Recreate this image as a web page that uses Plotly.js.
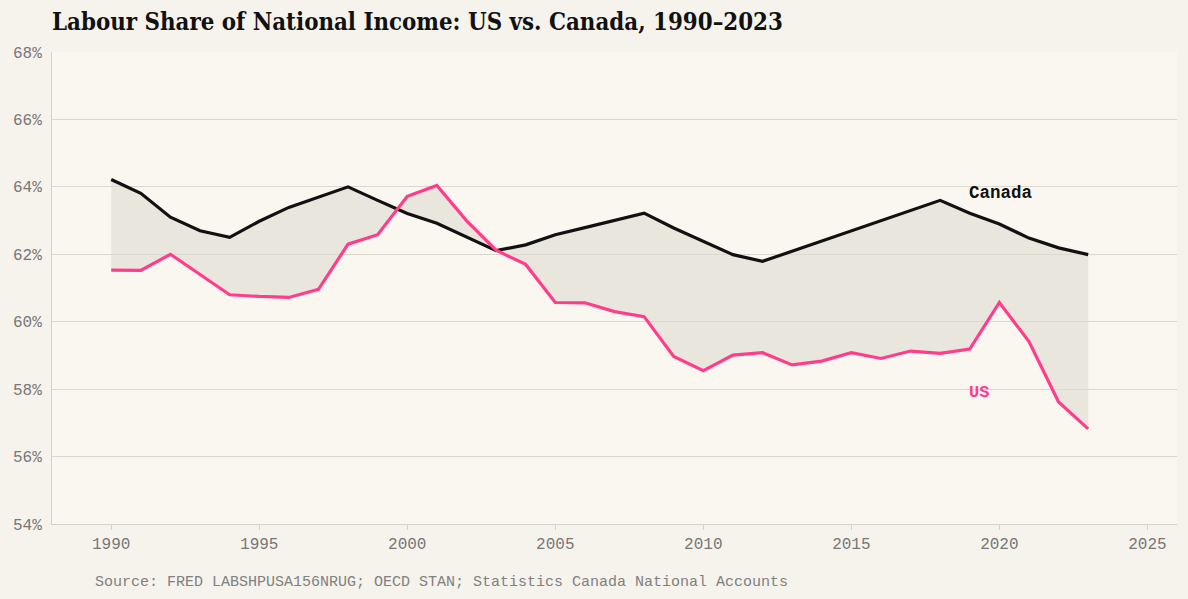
<!DOCTYPE html>
<html>
<head>
<meta charset="utf-8">
<script src="https://cdn.plot.ly/plotly-3.0.1.min.js"></script>
<style>
    html, body { margin: 0; padding: 0; background: #f6f3ed; }
    #chart { width: 1188px; height: 599px; }
</style>
</head>
<body>
<div id="chart"></div>
<script>
// data (labour share, % of national income)
const years = [1990, 1991, 1992, 1993, 1994, 1995, 1996, 1997, 1998, 1999,
    2000, 2001, 2002, 2003, 2004, 2005, 2006, 2007, 2008, 2009,
    2010, 2011, 2012, 2013, 2014, 2015, 2016, 2017, 2018, 2019,
    2020, 2021, 2022, 2023]

const canada = [64.22, 63.81, 63.1, 62.7, 62.5, 62.98, 63.39, 63.69, 64.0, 63.6,
    63.21, 62.92, 62.52, 62.11, 62.28, 62.58, 62.79, 63.0, 63.22, 62.78,
    62.38, 61.99, 61.79, 62.09, 62.4, 62.7, 63.0, 63.3, 63.6, 63.22,
    62.9, 62.48, 62.19, 61.99]

const us = [61.53, 61.52, 62.0, 61.4, 60.8, 60.75, 60.72, 60.96, 62.3, 62.58,
    63.72, 64.04, 63.0, 62.12, 61.7, 60.57, 60.56, 60.3, 60.15, 58.97,
    58.55, 59.01, 59.08, 58.72, 58.83, 59.08, 58.91, 59.13, 59.06, 59.19,
    60.57, 59.41, 57.62, 56.82]

const yTicks = [54, 56, 58, 60, 62, 64, 66, 68]
const xTicks = [1990, 1995, 2000, 2005, 2010, 2015, 2020, 2025]

const titleText = "Labour Share of National Income: US vs. Canada, 1990–2023"
const sourceText = "Source: FRED LABSHPUSA156NRUG; OECD STAN; Statistics Canada National Accounts"

const pink = "#ff3d8b"
const ink = "#111111"
const mono = "'Liberation Mono', 'Courier New', monospace"

let plotData = [
    {
        // base for the gap fill
        type: 'scatter', x: years, y: us, mode: 'lines',
        line: { width: 0 }, hoverinfo: 'skip', showlegend: false
    },
    {
        type: 'scatter', x: years, y: canada, mode: 'lines',
        fill: 'tonexty', fillcolor: 'rgba(222, 218, 210, 0.6)',
        line: { width: 0 }, hoverinfo: 'skip', showlegend: false
    },
    {
        type: 'scatter', x: years, y: canada, mode: 'lines', name: 'Canada',
        line: { color: ink, width: 3.2 }, showlegend: false
    },
    {
        type: 'scatter', x: years, y: us, mode: 'lines', name: 'US',
        line: { color: pink, width: 3.2 }, showlegend: false
    }
]

let plotLayout = {
    width: 1188,
    height: 599,
    paper_bgcolor: '#f6f3ed',
    plot_bgcolor: '#faf7f1',
    margin: { l: 52, r: 11, t: 52, b: 75 },
    font: { family: mono, size: 16, color: '#777777' },
    title: {
        text: '<b>' + titleText + '</b>',
        font: { family: "'DejaVu Serif Condensed', 'DejaVu Serif', serif", size: 23.8, color: '#111111' },
        x: 52 / 1188, xanchor: 'left',
        y: 1 - 22 / 599, yanchor: 'middle'
    },
    xaxis: {
        range: [1988, 2026],
        tickvals: xTicks,
        ticktext: xTicks.map(String),
        showgrid: false,
        zeroline: false,
        showline: true,
        linecolor: '#d6d1c7',
        ticks: 'outside',
        ticklen: 5,
        tickcolor: '#d6d1c7',
        tickfont: { family: mono, size: 16, color: '#777777' }
    },
    yaxis: {
        range: [54, 68],
        tickvals: yTicks,
        ticktext: yTicks.map(v => v + '%'),
        gridcolor: '#dcd7cd',
        gridwidth: 1,
        zeroline: false,
        showline: true,
        linecolor: '#d6d1c7',
        ticks: '',
        ticklabelstandoff: 6,
        tickfont: { family: mono, size: 16, color: '#777777' }
    },
    annotations: [
        {
            x: 2019, y: 63.82, xref: 'x', yref: 'y',
            text: '<b>Canada</b>', showarrow: false,
            xanchor: 'left', yanchor: 'middle', xshift: -3,
            font: { family: mono, size: 17.5, color: ink }
        },
        {
            x: 2019, y: 57.9, xref: 'x', yref: 'y',
            text: '<b>US</b>', showarrow: false,
            xanchor: 'left', yanchor: 'middle', xshift: -3,
            font: { family: mono, size: 17, color: pink }
        },
        {
            x: (96 - 52) / 1125, y: (524 - 582) / 472, xref: 'paper', yref: 'paper',
            text: sourceText, showarrow: false,
            xanchor: 'left', yanchor: 'middle', xshift: -3,
            font: { family: mono, size: 15, color: '#808080' }
        }
    ]
}

Plotly.newPlot('chart', plotData, plotLayout, { displayModeBar: false, staticPlot: true })
</script>
</body>
</html>
